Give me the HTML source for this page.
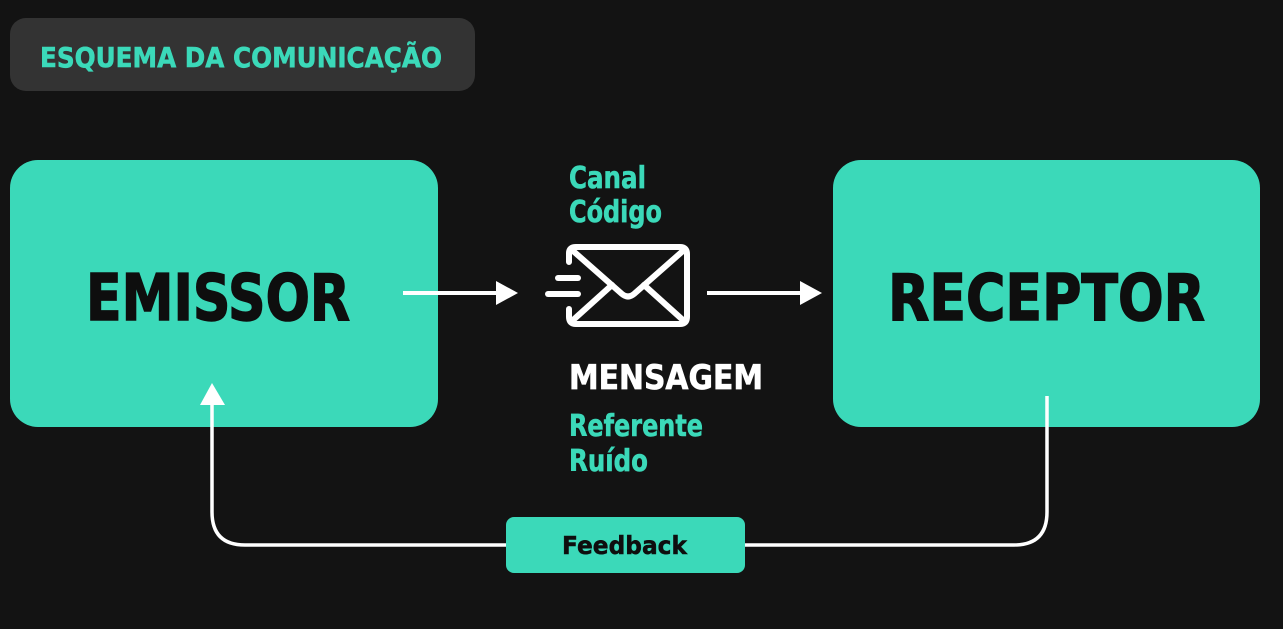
<!DOCTYPE html>
<html><head><meta charset="utf-8"><style>
html,body{margin:0;padding:0;background:#131313;width:1283px;height:629px;overflow:hidden}
text{font-family:"DejaVu Sans","Liberation Sans",sans-serif;font-weight:bold}
</style></head><body>
<svg width="1283" height="629" viewBox="0 0 1283 629" xmlns="http://www.w3.org/2000/svg">
<rect width="1283" height="629" fill="#131313"/>
<rect x="10" y="18" width="465" height="73" rx="16" fill="#333333"/>
<text x="40" y="67" font-size="28" fill="#3bd9b9" stroke="#3bd9b9" stroke-width="0.6" textLength="402" lengthAdjust="spacingAndGlyphs">ESQUEMA DA COMUNICAÇÃO</text>
<rect x="10" y="160" width="428" height="267" rx="28" fill="#3bd9b9"/>
<rect x="833" y="160" width="427" height="267" rx="28" fill="#3bd9b9"/>
<text x="86" y="320" font-size="64" fill="#0e0e0e" stroke="#0e0e0e" stroke-width="1.5" textLength="264" lengthAdjust="spacingAndGlyphs">EMISSOR</text>
<text x="888" y="320" font-size="64" fill="#0e0e0e" stroke="#0e0e0e" stroke-width="1.5" textLength="317" lengthAdjust="spacingAndGlyphs">RECEPTOR</text>
<text x="569" y="188" font-size="30" fill="#3bd9b9" stroke="#3bd9b9" stroke-width="0.6" textLength="77" lengthAdjust="spacingAndGlyphs">Canal</text>
<text x="569" y="222" font-size="30" fill="#3bd9b9" stroke="#3bd9b9" stroke-width="0.6" textLength="93" lengthAdjust="spacingAndGlyphs">Código</text>
<text x="569" y="389" font-size="34" fill="#ffffff" stroke="#ffffff" stroke-width="0.7" textLength="194" lengthAdjust="spacingAndGlyphs">MENSAGEM</text>
<text x="569" y="436" font-size="30" fill="#3bd9b9" stroke="#3bd9b9" stroke-width="0.6" textLength="134" lengthAdjust="spacingAndGlyphs">Referente</text>
<text x="569" y="471" font-size="30" fill="#3bd9b9" stroke="#3bd9b9" stroke-width="0.6" textLength="79" lengthAdjust="spacingAndGlyphs">Ruído</text>
<line x1="403" y1="293" x2="500" y2="293" stroke="#fff" stroke-width="4"/>
<polygon points="496,281 518,293 496,305" fill="#fff"/>
<line x1="707" y1="293" x2="805" y2="293" stroke="#fff" stroke-width="4"/>
<polygon points="800,281 822,293 800,305" fill="#fff"/>
<g fill="none" stroke="#fff" stroke-width="6" stroke-linecap="round" stroke-linejoin="round">
<path d="M569,262 V253 Q569,247 576,247 H680 Q687,247 687,254 V317 Q687,324 680,324 H576 Q569,324 569,317 V309"/>
<path d="M572,250 L622,294 Q628,299 634,294 L684,250"/>
<line x1="572" y1="321" x2="612" y2="285"/>
<line x1="684" y1="321" x2="644" y2="285"/>
<line x1="558" y1="278" x2="578" y2="278"/>
<line x1="548" y1="294" x2="578" y2="294"/>
</g>
<path d="M1047,396 V512 Q1047,545 1014,545 H745 M506,545 H245 Q212,545 212,512 V403" fill="none" stroke="#fff" stroke-width="3.5"/>
<polygon points="200,405 212,383 225,405" fill="#fff"/>
<rect x="506" y="517" width="239" height="56" rx="8" fill="#3bd9b9"/>
<text x="562" y="554" font-size="25" fill="#0e0e0e" stroke="#0e0e0e" stroke-width="0.5" textLength="125" lengthAdjust="spacingAndGlyphs">Feedback</text>
</svg>
</body></html>
